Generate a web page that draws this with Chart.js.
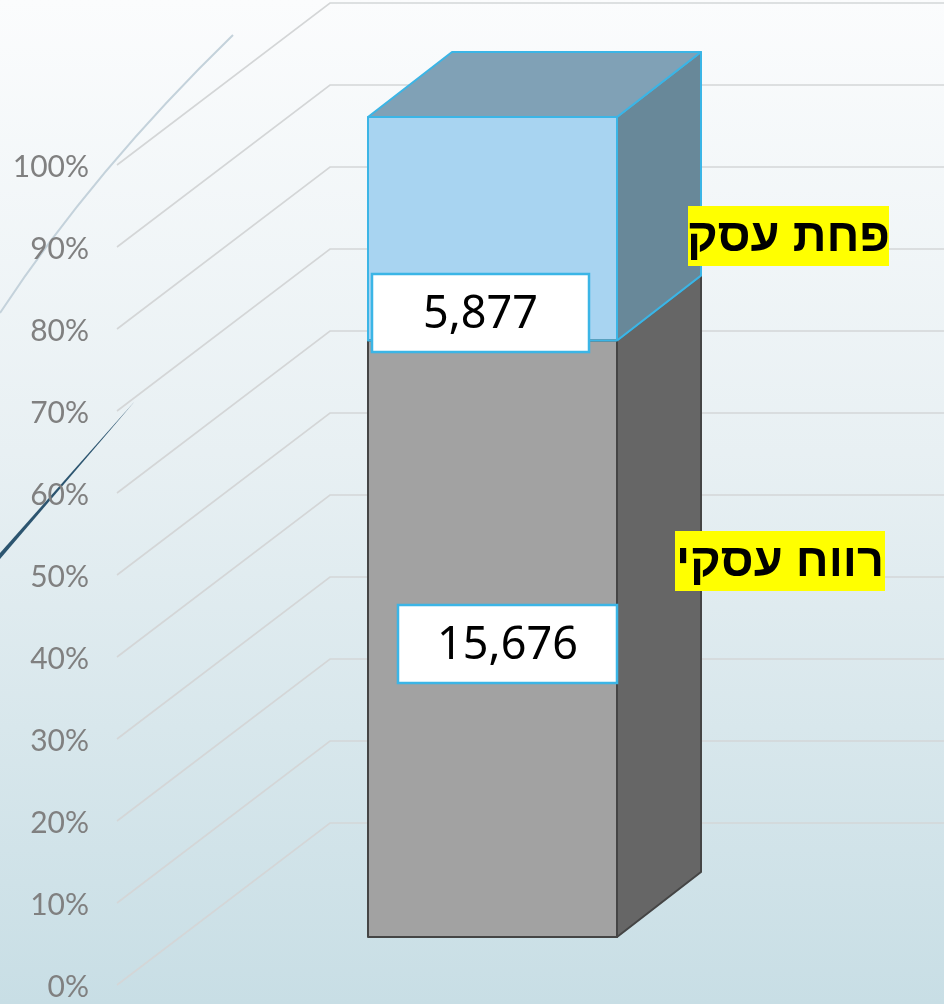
<!DOCTYPE html>
<html>
<head>
<meta charset="utf-8">
<script src="https://cdn.jsdelivr.net/npm/chart.js@4.4.1/dist/chart.umd.min.js"></script>
<style>
  html, body { margin: 0; padding: 0; background: #ffffff; }
  #wrap { width: 944px; height: 1004px; position: relative; }
</style>
</head>
<body>
<div id="wrap"><canvas id="c" width="944" height="1004"></canvas></div>
<script>
// ---- data ----
const categories = [''];
const seriesNames = ['רווח עסקי', 'פחת עסק'];
const seriesValues = [15676, 5877];
const tickLabels = ['0%', '10%', '20%', '30%', '40%', '50%', '60%', '70%', '80%', '90%', '100%'];
const tickValues = [0, 10, 20, 30, 40, 50, 60, 70, 80, 90, 100];

const total = seriesValues.reduce((a, b) => a + b, 0);
const percents = seriesValues.map(v => v / total * 100);

// ---- styles ----
const DEPTH_X = 84, DEPTH_Y = -65;
const faceStyles = [
  { front: '#a2a2a2', side: '#666666', top: '#8a8a8a', border: '#454545' },
  { front: '#a8d4f1', side: '#688899', top: '#80a1b6', border: '#3bb5e6' }
];
const valueBoxes = [
  { x: 398, y: 605, w: 219, h: 78 },
  { x: 372, y: 274, w: 217, h: 78 }
];
const nameBoxes = [
  { x: 675, y: 531, w: 210, h: 60 },
  { x: 688, y: 206, w: 201, h: 60 }
];

const bgPlugin = {
  id: 'bg',
  beforeDraw(chart) {
    const ctx = chart.ctx;
    const g = ctx.createLinearGradient(0, 0, 0, chart.height);
    g.addColorStop(0, '#fbfcfd');
    g.addColorStop(0.45, '#e8f0f3');
    g.addColorStop(1, '#c8dee5');
    ctx.save();
    ctx.fillStyle = g;
    ctx.fillRect(0, 0, chart.width, chart.height);
    // decorative swooshes at the left edge
    ctx.strokeStyle = '#c4d2db';
    ctx.lineWidth = 2;
    ctx.beginPath();
    ctx.moveTo(0, 313);
    ctx.quadraticCurveTo(94, 170, 233, 35);
    ctx.stroke();
    ctx.fillStyle = '#2c5570';
    ctx.beginPath();
    ctx.moveTo(0, 553);
    ctx.lineTo(135, 401);
    ctx.lineTo(0, 559);
    ctx.closePath();
    ctx.fill();
    ctx.restore();
  },
  beforeDatasetsDraw(chart) {
    const ctx = chart.ctx;
    const y = chart.scales.y;
    ctx.save();
    ctx.strokeStyle = '#d4d6d7';
    ctx.lineWidth = 1.6;
    tickValues.forEach((v, i) => {
      const yb = y.getPixelForValue(v);
      ctx.beginPath();
      ctx.moveTo(117, yb + 48);
      ctx.lineTo(330, yb - 114);
      ctx.lineTo(chart.width, yb - 114);
      ctx.stroke();
    });
    // tick labels
    ctx.fillStyle = '#808080';
    ctx.font = '30px Lato, "Noto Sans", sans-serif';
    ctx.textAlign = 'right';
    ctx.textBaseline = 'middle';
    tickValues.forEach((v, i) => {
      const yb = y.getPixelForValue(v);
      ctx.fillText(tickLabels[i], 89, yb + 50);
    });
    ctx.restore();
  },
  afterDatasetsDraw(chart) {
    const ctx = chart.ctx;
    ctx.save();
    const n = chart.data.datasets.length;
    for (let d = 0; d < n; d++) {
      const bar = chart.getDatasetMeta(d).data[0];
      const p = bar.getProps(['x', 'y', 'base', 'width'], true);
      const left = p.x - p.width / 2, right = p.x + p.width / 2;
      const top = Math.min(p.y, p.base), bottom = Math.max(p.y, p.base);
      const st = faceStyles[d];
      ctx.lineWidth = 2;
      ctx.strokeStyle = st.border;
      ctx.lineJoin = 'round';
      ctx.fillStyle = st.side;
      ctx.beginPath();
      ctx.moveTo(right, bottom);
      ctx.lineTo(right + DEPTH_X, bottom + DEPTH_Y);
      ctx.lineTo(right + DEPTH_X, top + DEPTH_Y);
      ctx.lineTo(right, top);
      ctx.closePath();
      ctx.fill();
      ctx.stroke();
      if (d === n - 1) {
        ctx.fillStyle = st.top;
        ctx.beginPath();
        ctx.moveTo(left, top);
        ctx.lineTo(left + DEPTH_X, top + DEPTH_Y);
        ctx.lineTo(right + DEPTH_X, top + DEPTH_Y);
        ctx.lineTo(right, top);
        ctx.closePath();
        ctx.fill();
        ctx.stroke();
      }
    }
    for (let d = 0; d < n; d++) {
      const bar = chart.getDatasetMeta(d).data[0];
      const p = bar.getProps(['x', 'y', 'base', 'width'], true);
      const left = p.x - p.width / 2;
      const top = Math.min(p.y, p.base), bottom = Math.max(p.y, p.base);
      ctx.strokeStyle = faceStyles[d].border;
      ctx.lineWidth = 2;
      ctx.strokeRect(left, top, p.width, bottom - top);
    }
    ctx.restore();
  },
  afterDraw(chart) {
    const ctx = chart.ctx;
    ctx.save();
    seriesValues.forEach((v, i) => {
      const b = valueBoxes[i];
      ctx.fillStyle = '#ffffff';
      ctx.fillRect(b.x, b.y, b.w, b.h);
      ctx.strokeStyle = '#3bb5e6';
      ctx.lineWidth = 2.5;
      ctx.strokeRect(b.x, b.y, b.w, b.h);
      ctx.fillStyle = '#000000';
      ctx.font = '45px "Noto Sans", sans-serif';
      ctx.textAlign = 'center';
      ctx.textBaseline = 'middle';
      ctx.fillText(v.toLocaleString('en-US'), b.x + b.w / 2, b.y + b.h / 2 + 2);
    });
    seriesNames.forEach((name, i) => {
      const b = nameBoxes[i];
      ctx.fillStyle = '#ffff00';
      ctx.fillRect(b.x, b.y, b.w, b.h);
      ctx.fillStyle = '#000000';
      ctx.font = 'bold 47px "Liberation Sans", "DejaVu Sans", sans-serif';
      ctx.textAlign = 'center';
      ctx.textBaseline = 'middle';
      ctx.fillText(name, b.x + b.w / 2, b.y + b.h / 2 + 2);
    });
    ctx.restore();
  }
};

new Chart(document.getElementById('c'), {
  type: 'bar',
  data: {
    labels: categories,
    datasets: seriesNames.map((name, i) => ({
      label: name,
      data: [percents[i]],
      backgroundColor: faceStyles[i].front,
      borderColor: faceStyles[i].border,
      borderWidth: 0,
      barThickness: 249
    }))
  },
  options: {
    responsive: false,
    animation: false,
    layout: { padding: { left: 118, right: 77, top: 117, bottom: 67 } },
    plugins: { legend: { display: false }, tooltip: { enabled: false } },
    scales: {
      x: { stacked: true, display: false, grid: { display: false } },
      y: { stacked: true, display: false, min: 0, max: 100, grid: { display: false } }
    }
  },
  plugins: [bgPlugin]
});
</script>
</body>
</html>
